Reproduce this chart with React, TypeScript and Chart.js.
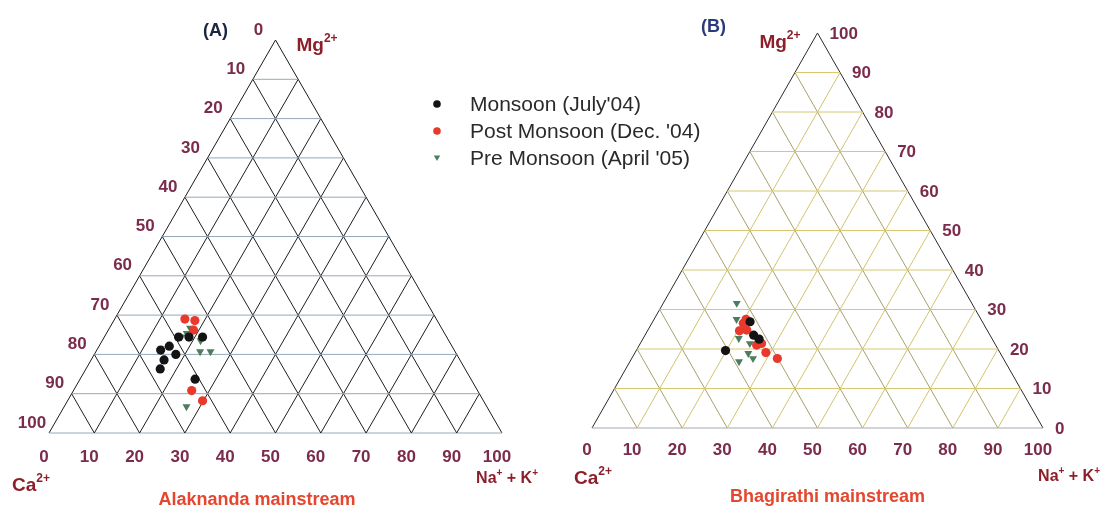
import React, { useEffect, useRef } from 'react';
import { Chart, registerables } from 'chart.js';

Chart.register(...registerables);

// Compositions as [Na+ + K+ %, Mg2+ %]; Ca2+ % = 100 - both
const alakMonsoon: [number, number][] = [[14.1, 21.1], [15.5, 22.1], [16.4, 24.4], [18.7, 24.4], [21.7, 24.4], [18.0, 20.0], [16.1, 18.6], [16.4, 16.3], [25.4, 13.7]];
const alakPost: [number, number][] = [[15.5, 29.0], [17.9, 28.6], [18.8, 26.2], [26.1, 10.8], [29.8, 8.2]];
const alakPre: [number, number][] = [[17.8, 26.7], [17.7, 25.4], [17.0, 24.5], [21.7, 23.5], [23.0, 20.7], [25.3, 20.7], [27.0, 6.7], [18.5, 26.2]];

const bhagMonsoon: [number, number][] = [[21.6, 26.9], [24.1, 23.5], [25.8, 22.5], [19.8, 19.6]];
const bhagPost: [number, number][] = [[20.4, 27.5], [20.3, 26.5], [20.4, 24.6], [21.9, 24.8], [26.0, 21.0], [26.9, 21.4], [29.0, 19.1], [32.3, 17.6]];
const bhagPre: [number, number][] = [[16.3, 31.6], [18.3, 27.5], [21.2, 22.7], [25.2, 18.9], [26.9, 17.6], [24.2, 16.8], [24.3, 21.4]];

const gridSteps = [10, 20, 30, 40, 50, 60, 70, 80, 90];
const axisTicks = [0, 10, 20, 30, 40, 50, 60, 70, 80, 90, 100];
const seriesNames = ["Monsoon (July'04)", "Post Monsoon (Dec. '04)", "Pre Monsoon (April '05)"];
const panelTitles = ['(A)', '(B)'];
const captions = ['Alaknanda mainstream', 'Bhagirathi mainstream'];

const FONT = '"Liberation Sans", Arial, Helvetica, sans-serif';
const NUM_COLOR = '#7b2b4c';
const LABEL_COLOR = '#8c1f2a';
const CAPTION_COLOR = '#e4462e';
const SERIES_COLORS = ['#141414', '#e8392c', '#4c7d5e'];

type Pt = [number, number];
const toXY = (p: Pt) => ({ x: p[0] + p[1] / 2, y: p[1] });

function px(chart: any, p: Pt): [number, number] {
  const q = toXY(p);
  return [chart.scales.x.getPixelForValue(q.x), chart.scales.y.getPixelForValue(q.y)];
}

function richText(ctx: CanvasRenderingContext2D, parts: [string, boolean][], x: number, y: number, align: string, size: number, color: string) {
  const fontMain = `bold ${size}px ${FONT}`;
  const fontSup = `bold ${Math.round(size * 0.62)}px ${FONT}`;
  let w = 0;
  for (const [t, sup] of parts) {
    ctx.font = sup ? fontSup : fontMain;
    w += ctx.measureText(t).width;
  }
  let cx = align === 'right' ? x - w : align === 'center' ? x - w / 2 : x;
  ctx.fillStyle = color;
  ctx.textAlign = 'left';
  ctx.textBaseline = 'alphabetic';
  for (const [t, sup] of parts) {
    ctx.font = sup ? fontSup : fontMain;
    ctx.fillText(t, cx, sup ? y - size * 0.45 : y);
    cx += ctx.measureText(t).width;
  }
}

function gridDatasets(style: { horiz: string; up: string; down: string; base: string; edge: string }) {
  const ds: any[] = [];
  const seg = (a: Pt, b: Pt, color: string, width: number) =>
    ds.push({
      type: 'scatter',
      data: [toXY(a), toXY(b)],
      showLine: true,
      borderColor: color,
      borderWidth: width,
      pointRadius: 0,
      pointHoverRadius: 0,
      order: 1,
      clip: false,
    });
  for (const m of gridSteps) seg([0, m], [100 - m, m], style.horiz, 1);
  for (const k of gridSteps) seg([k, 0], [k, 100 - k], style.up, 1);
  for (const c of gridSteps) seg([100 - c, 0], [0, 100 - c], style.down, 1);
  seg([0, 0], [100, 0], style.base, 1.2);
  seg([0, 0], [0, 100], style.edge, 1);
  seg([100, 0], [0, 100], style.edge, 1);
  return ds;
}

function seriesDatasets(series: Pt[][]) {
  return series.map((s, i) => ({
    type: 'scatter',
    label: seriesNames[i],
    data: s.map(toXY),
    pointStyle: i === 2 ? 'triangle' : 'circle',
    pointRotation: i === 2 ? 180 : 0,
    pointRadius: i === 2 ? 4.6 : 4.6,
    pointBackgroundColor: SERIES_COLORS[i],
    pointBorderColor: SERIES_COLORS[i],
    pointBorderWidth: 0,
    showLine: false,
    order: 0,
    clip: false,
  }));
}

function drawLegendMarker(ctx: CanvasRenderingContext2D, i: number, x: number, y: number) {
  ctx.fillStyle = SERIES_COLORS[i];
  ctx.beginPath();
  if (i === 2) {
    ctx.moveTo(x - 3.2, y - 2.5);
    ctx.lineTo(x + 3.2, y - 2.5);
    ctx.lineTo(x, y + 3);
    ctx.closePath();
  } else {
    ctx.arc(x, y, 3.8, 0, Math.PI * 2);
  }
  ctx.fill();
}

const textPluginA = {
  id: 'ternaryTextA',
  afterDraw(chart: any) {
    const ctx: CanvasRenderingContext2D = chart.ctx;
    ctx.save();
    ctx.font = `bold 17px ${FONT}`;
    ctx.fillStyle = NUM_COLOR;
    ctx.textAlign = 'center';
    ctx.textBaseline = 'middle';
    for (const v of axisTicks) {
      const [x, y] = px(chart, [0, 100 - v]);
      ctx.fillText(String(v), x - 17, y - 10);
    }
    for (const v of axisTicks) {
      const [x, y] = px(chart, [v, 0]);
      ctx.fillText(String(v), x - 5, y + 24);
    }
    const [ax, ay] = px(chart, [0, 100]);
    const [lx, ly] = px(chart, [0, 0]);
    const [rx, ry] = px(chart, [100, 0]);
    ctx.font = `bold 18px ${FONT}`;
    ctx.fillStyle = '#1d2440';
    ctx.fillText(panelTitles[0], ax - 60, ay - 9);
    richText(ctx, [['Mg', false], ['2+', true]], ax + 21, ay + 11, 'left', 19, LABEL_COLOR);
    richText(ctx, [['Ca', false], ['2+', true]], lx - 37, ly + 58, 'left', 19, LABEL_COLOR);
    richText(ctx, [['Na', false], ['+', true], [' + K', false], ['+', true]], rx + 36, ry + 50, 'right', 16, LABEL_COLOR);
    ctx.font = `bold 18px ${FONT}`;
    ctx.fillStyle = CAPTION_COLOR;
    ctx.textAlign = 'center';
    ctx.textBaseline = 'middle';
    ctx.fillText(captions[0], (lx + rx) / 2 - 18.5, ly + 67);
    // legend
    ctx.font = `21px ${FONT}`;
    ctx.textAlign = 'left';
    ctx.textBaseline = 'middle';
    seriesNames.forEach((name, i) => {
      const y = 104 + i * 27;
      drawLegendMarker(ctx, i, 437, y);
      ctx.fillStyle = '#2a2a2a';
      ctx.fillText(name, 470, y + 1);
    });
    ctx.restore();
  },
};

const textPluginB = {
  id: 'ternaryTextB',
  afterDraw(chart: any) {
    const ctx: CanvasRenderingContext2D = chart.ctx;
    ctx.save();
    ctx.font = `bold 17px ${FONT}`;
    ctx.fillStyle = NUM_COLOR;
    ctx.textAlign = 'left';
    ctx.textBaseline = 'middle';
    for (const v of axisTicks) {
      const [x, y] = px(chart, [100 - v, v]);
      ctx.fillText(String(v), x + 12, y + 1);
    }
    ctx.textAlign = 'center';
    for (const v of axisTicks) {
      const [x, y] = px(chart, [v, 0]);
      ctx.fillText(String(v), x - 5, y + 22);
    }
    const [ax, ay] = px(chart, [0, 100]);
    const [lx, ly] = px(chart, [0, 0]);
    const [rx, ry] = px(chart, [100, 0]);
    ctx.font = `bold 18px ${FONT}`;
    ctx.fillStyle = '#2b3a7c';
    ctx.fillText(panelTitles[1], ax - 104, ay - 6);
    richText(ctx, [['Mg', false], ['2+', true]], ax - 17, ay + 15, 'right', 19, LABEL_COLOR);
    richText(ctx, [['Ca', false], ['2+', true]], lx - 18, ly + 56, 'left', 19, LABEL_COLOR);
    richText(ctx, [['Na', false], ['+', true], [' + K', false], ['+', true]], rx + 57, ry + 53, 'right', 16, LABEL_COLOR);
    ctx.font = `bold 18px ${FONT}`;
    ctx.fillStyle = CAPTION_COLOR;
    ctx.textAlign = 'center';
    ctx.textBaseline = 'middle';
    ctx.fillText(captions[1], (lx + rx) / 2 + 10, ly + 69);
    ctx.restore();
  },
};

function makeChart(canvas: HTMLCanvasElement, datasets: any[], padding: any, plugin: any) {
  return new Chart(canvas, {
    type: 'scatter',
    data: { datasets },
    options: {
      responsive: false,
      animation: false,
      devicePixelRatio: 1,
      layout: { padding },
      scales: {
        x: { type: 'linear', min: 0, max: 100, display: false },
        y: { type: 'linear', min: 0, max: 100, display: false },
      },
      plugins: { legend: { display: false }, tooltip: { enabled: false } },
      events: [],
    } as any,
    plugins: [plugin],
  } as any);
}

export default function App() {
  const refA = useRef<HTMLCanvasElement>(null);
  const refB = useRef<HTMLCanvasElement>(null);

  useEffect(() => {
    const a = makeChart(
      refA.current!,
      [
        ...seriesDatasets([alakMonsoon, alakPost, alakPre]),
        ...gridDatasets({ horiz: '#93a8bb', up: '#1e1e1e', down: '#1e1e1e', base: '#9aaabb', edge: '#1a1a1a' }),
      ],
      { left: 49, right: 599, top: 40, bottom: 79 },
      textPluginA
    );
    const b = makeChart(
      refB.current!,
      [
        ...seriesDatasets([bhagMonsoon, bhagPost, bhagPre]),
        ...gridDatasets({ horiz: '#d8c872', up: '#d2c36e', down: '#a8a06a', base: '#a3a8b2', edge: '#2a2a2a' }),
      ],
      { left: 592, right: 58, top: 33, bottom: 84 },
      textPluginB
    );
    return () => {
      a.destroy();
      b.destroy();
    };
  }, []);

  return (
    <div style={{ position: 'fixed', left: 0, top: 0, width: 1101, height: 512, background: '#fff' }}>
      <canvas ref={refA} width={1101} height={512} style={{ position: 'absolute', left: 0, top: 0 }} />
      <canvas ref={refB} width={1101} height={512} style={{ position: 'absolute', left: 0, top: 0 }} />
    </div>
  );
}
